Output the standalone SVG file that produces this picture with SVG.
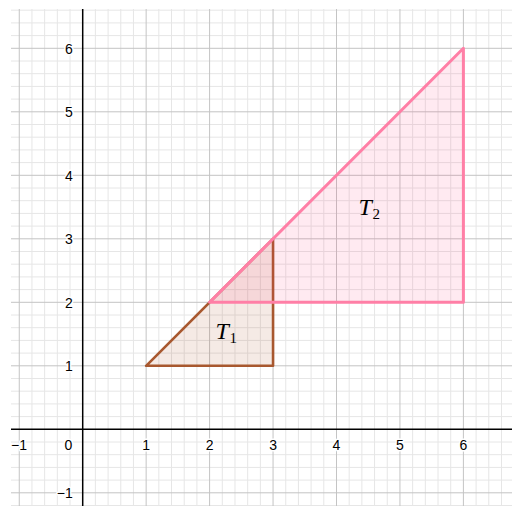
<svg xmlns="http://www.w3.org/2000/svg" width="512" height="506" viewBox="0 0 512 506">
<style>
.minor{stroke:#e6e6e6;stroke-width:1;fill:none}
.major{stroke:#c4c4c4;stroke-width:1;fill:none}
.axis{stroke:#000;stroke-width:1.5;fill:none}
.tick{font-family:"Liberation Sans",Arial,sans-serif;font-size:14px;fill:#000;stroke:#fff;stroke-width:3;paint-order:stroke;stroke-linejoin:round}
.tx{text-anchor:middle}
.ty{text-anchor:end}
.lbl{font-family:"Liberation Serif","Times New Roman",serif;fill:#000}
</style>
<rect width="512" height="506" fill="#fff"/>
<g id="grid">
<path class="minor" d="M31.94 9V506M44.63 9V506M57.32 9V506M70.01 9V506M95.39 9V506M108.08 9V506M120.77 9V506M133.46 9V506M158.84 9V506M171.53 9V506M184.22 9V506M196.91 9V506M222.29 9V506M234.98 9V506M247.67 9V506M260.36 9V506M285.74 9V506M298.43 9V506M311.12 9V506M323.81 9V506M349.19 9V506M361.88 9V506M374.57 9V506M387.26 9V506M412.64 9V506M425.33 9V506M438.02 9V506M450.71 9V506M476.09 9V506M488.78 9V506M501.47 9V506"/>
<path class="minor" d="M11 505.5H512M11 480.1H512M11 467.4H512M11 454.7H512M11 442H512M11 416.6H512M11 403.9H512M11 391.2H512M11 378.5H512M11 353.1H512M11 340.4H512M11 327.7H512M11 315H512M11 289.6H512M11 276.9H512M11 264.2H512M11 251.5H512M11 226.1H512M11 213.4H512M11 200.7H512M11 188H512M11 162.6H512M11 149.9H512M11 137.2H512M11 124.5H512M11 99.1H512M11 86.4H512M11 73.7H512M11 61H512M11 35.6H512M11 22.9H512M11 10.2H512"/>
<path class="major" d="M19.25 9V506M146.15 9V506M209.6 9V506M273.05 9V506M336.5 9V506M399.95 9V506M463.4 9V506"/>
<path class="major" d="M11 492.8H512M11 365.8H512M11 302.3H512M11 238.8H512M11 175.3H512M11 111.8H512M11 48.3H512"/>
</g>
<g id="axes">
<path class="axis" d="M11 429.3H512M82.7 9V506"/>
<g id="x-ticks">
<text class="tick tx" x="19" y="449.8">−1</text>
<text class="tick tx" x="68.3" y="449.8">0</text>
<text class="tick tx" x="146.15" y="449.8">1</text>
<text class="tick tx" x="209.6" y="449.8">2</text>
<text class="tick tx" x="273.05" y="449.8">3</text>
<text class="tick tx" x="336.5" y="449.8">4</text>
<text class="tick tx" x="399.95" y="449.8">5</text>
<text class="tick tx" x="463.4" y="449.8">6</text>
</g>
<g id="y-ticks">
<text class="tick ty" x="72.8" y="498.3">−1</text>
<text class="tick ty" x="72.8" y="371.3">1</text>
<text class="tick ty" x="72.8" y="307.8">2</text>
<text class="tick ty" x="72.8" y="244.3">3</text>
<text class="tick ty" x="72.8" y="180.8">4</text>
<text class="tick ty" x="72.8" y="117.3">5</text>
<text class="tick ty" x="72.8" y="53.8">6</text>
</g>
</g>
<g id="T1">
<polygon points="146.15,365.8 273.05,365.8 273.05,238.8" fill="#993300" fill-opacity="0.1" stroke="#a8582f" stroke-width="2.6" stroke-linejoin="round"/>
<text class="lbl" x="215.5" y="338.5" font-size="24" font-style="italic">T</text>
<text class="lbl" x="229.5" y="343" font-size="15">1</text>
</g>
<g id="T2">
<polygon points="209.6,302.3 463.4,302.3 463.4,48.3" fill="#ff3377" fill-opacity="0.1" stroke="#ff7fa6" stroke-width="3" stroke-linejoin="round"/>
<text class="lbl" x="358.5" y="214.5" font-size="24" font-style="italic">T</text>
<text class="lbl" x="372.5" y="219" font-size="15">2</text>
</g>
</svg>
